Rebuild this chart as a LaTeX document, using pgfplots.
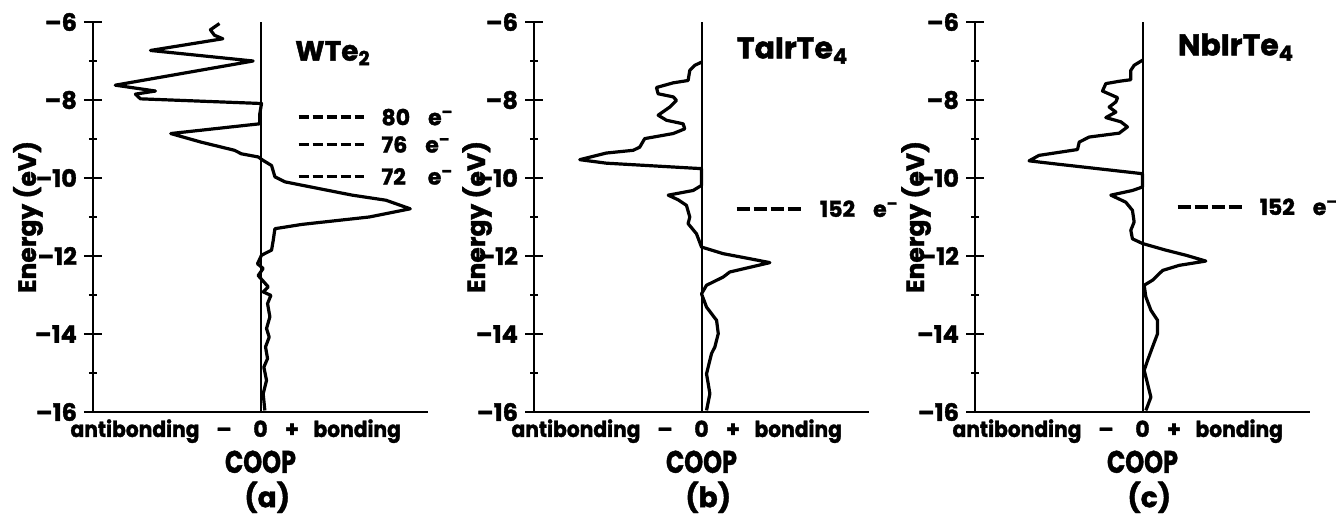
\documentclass[border=0pt]{standalone}
\usepackage{fontspec}
\setmainfont{Poppins}[BoldFeatures={FakeBold=1.5}]
\usepackage{graphicx}
\usepackage{pgfplots}
\pgfplotsset{compat=1.18}

% COOP curves, x = COOP (arbitrary units), y = energy (eV)
\pgfplotstableread{
x y
-0.245 -6.04
-0.299 -6.20
-0.275 -6.34
-0.225 -6.43
-0.657 -6.73
-0.044 -7.00
-0.867 -7.62
-0.627 -7.77
-0.747 -7.85
-0.717 -7.97
0.006 -8.09
-0.004 -8.35
-0.004 -8.61
-0.536 -8.86
-0.355 -9.08
-0.155 -9.29
-0.114 -9.38
-0.014 -9.46
0.016 -9.55
0.066 -9.68
0.086 -9.97
0.147 -10.10
0.347 -10.27
0.548 -10.44
0.749 -10.57
0.894 -10.79
0.649 -11.00
0.247 -11.19
0.086 -11.30
0.076 -11.60
0.066 -11.85
0.006 -11.98
-0.018 -12.20
0.016 -12.32
-0.014 -12.50
0.046 -12.79
0.016 -12.92
0.062 -13.01
0.042 -13.22
0.056 -13.56
0.036 -13.86
0.052 -14.08
0.030 -14.33
0.042 -14.63
0.020 -14.85
0.036 -15.19
0.016 -15.53
0.026 -15.96
}\wte

\pgfplotstableread{
x y
0 -7.03
-0.040 -7.11
-0.070 -7.24
-0.080 -7.50
-0.169 -7.56
-0.269 -7.68
-0.259 -7.84
-0.169 -7.92
-0.149 -8.01
-0.189 -8.18
-0.259 -8.39
-0.209 -8.52
-0.110 -8.61
-0.100 -8.74
-0.169 -8.86
-0.339 -8.99
-0.369 -9.21
-0.408 -9.29
-0.568 -9.36
-0.727 -9.53
-0.568 -9.62
0 -9.76
0 -10.19
-0.050 -10.32
-0.199 -10.44
-0.139 -10.56
-0.090 -10.70
-0.070 -11.00
-0.080 -11.17
-0.030 -11.43
0 -11.77
0.129 -11.94
0.289 -12.07
0.408 -12.17
0.169 -12.41
0.129 -12.54
0.030 -12.75
0 -12.97
0.030 -13.31
0.090 -13.65
0.100 -13.99
0.080 -14.33
0.060 -14.50
0.030 -15.02
0.050 -15.53
0.030 -15.96
}\tairte

\pgfplotstableread{
x y
0 -6.98
-0.050 -7.11
-0.070 -7.24
-0.070 -7.48
-0.139 -7.52
-0.219 -7.58
-0.239 -7.77
-0.149 -7.94
-0.159 -8.05
-0.199 -8.18
-0.159 -8.31
-0.219 -8.45
-0.129 -8.56
-0.090 -8.69
-0.139 -8.85
-0.319 -8.95
-0.378 -9.08
-0.388 -9.27
-0.618 -9.42
-0.677 -9.56
-0.538 -9.63
0 -9.89
0 -10.23
-0.060 -10.32
-0.189 -10.44
-0.100 -10.62
-0.060 -10.83
-0.050 -11.13
-0.070 -11.34
-0.060 -11.56
0 -11.68
0.139 -11.85
0.259 -11.98
0.378 -12.13
0.219 -12.24
0.120 -12.37
0.060 -12.62
0.010 -12.75
0.020 -13.05
0.050 -13.39
0.090 -13.65
0.090 -13.99
0.060 -14.33
0.030 -14.68
0.010 -14.93
0.030 -15.27
0.050 -15.62
0.020 -15.96
}\nbirte

\newcommand{\tk}{\bfseries\fontsize{12}{12}\selectfont}
\newcommand{\lb}{\bfseries\fontsize{11}{11}\selectfont}
\newcommand{\nar}[1]{\scalebox{0.92}[1]{#1}}
\newcommand{\elec}{e\textsuperscript{–}}

\pgfplotsset{
  coop/.style={
    scale only axis, width=167.5pt, height=195pt,
    xmin=-1, xmax=1, ymin=-16, ymax=-6,
    axis lines=left, axis line style={-, line width=1.3pt},
    xtick=\empty,
    ytick={-16,-14,...,-6}, yticklabels={–16,–14,–12,–10,–8,–6},
    minor ytick={-15,-13,...,-7},
    tick align=center, major tick length=9pt, minor tick length=4pt,
    every tick/.style={line width=1.3pt, black},
    yticklabel style={font=\tk},
    ylabel={Energy (eV)},
    ylabel style={font=\bfseries\fontsize{12.5}{12.5}\selectfont, anchor=center},
    clip=false,
  },
  curve/.style={black, line width=1.6pt, line join=round, no markers},
  zero/.style={black, line width=1pt, no markers},
  level/.style={black, line width=1.9pt, dash pattern=on 5pt off 2pt, no markers},
  level4/.style={black, line width=1.9pt, dash pattern=on 6.5pt off 2pt, no markers},
}

\newcommand{\bottomtext}[1]{%
  \node[anchor=base east, font=\lb, inner sep=0pt] at (axis description cs:0.319,-0.064) {\nar{antibonding}};
  \node[anchor=base, font=\lb, inner sep=0pt] at (axis description cs:0.391,-0.064) {–};
  \node[anchor=base, font=\lb, inner sep=0pt] at (axis description cs:0.5,-0.064) {0};
  \node[anchor=base, font=\lb, inner sep=0pt] at (axis description cs:0.594,-0.064) {+};
  \node[anchor=base west, font=\lb, inner sep=0pt] at (axis description cs:0.657,-0.064) {\nar{bonding}};
  \node[anchor=base, font=\bfseries\fontsize{12}{12}\selectfont] at (axis description cs:0.5,-0.156) {\scalebox{1}[1.3]{COOP}};
  \node[anchor=base, font=\bfseries\fontsize{14}{14}\selectfont] at (axis description cs:0.52,-0.244) {#1};
}

\begin{document}
\begin{tikzpicture}
\path[use as bounding box] (0,0) rectangle (668pt,257pt);

\begin{axis}[coop, at={(46.5pt,51pt)}, anchor=south west,
  ylabel style={at={(axis description cs:-0.194,0.5)}}]
  \addplot[zero] coordinates {(0,-16) (0,-6)};
  \addplot[curve] table[x=x, y=y] {\wte};
  \addplot[level] coordinates {(0.227,-8.44) (0.618,-8.44)};
  \addplot[level] coordinates {(0.227,-9.14) (0.618,-9.14)};
  \addplot[level] coordinates {(0.227,-9.96) (0.618,-9.96)};
  \node[anchor=west, font=\lb, inner sep=0pt] at (axis cs:0.72,-8.44) {80\hspace{9pt}\elec};
  \node[anchor=west, font=\lb, inner sep=0pt] at (axis cs:0.72,-9.14) {76\hspace{9pt}\elec};
  \node[anchor=west, font=\lb, inner sep=0pt] at (axis cs:0.72,-9.96) {72\hspace{11pt}\elec};
  \node[anchor=west, font=\bfseries\fontsize{14}{14}\selectfont, inner sep=0pt] at (axis cs:0.205,-6.8) {WTe\textsubscript{2}};
  \bottomtext{(a)}
\end{axis}

\begin{axis}[coop, at={(267pt,51pt)}, anchor=south west,
  ylabel style={at={(axis description cs:-0.17,0.5)}}]
  \addplot[zero] coordinates {(0,-16) (0,-6)};
  \addplot[curve] table[x=x, y=y] {\tairte};
  \addplot[level4] coordinates {(0.209,-10.79) (0.598,-10.79)};
  \node[anchor=west, font=\lb, inner sep=0pt] at (axis cs:0.705,-10.79) {152\hspace{9pt}\elec};
  \node[anchor=west, font=\bfseries\fontsize{15}{15}\selectfont, inner sep=0pt] at (axis cs:0.209,-6.73) {TaIrTe\textsubscript{4}};
  \bottomtext{(b)}
\end{axis}

\begin{axis}[coop, at={(487.5pt,51pt)}, anchor=south west,
  ylabel style={at={(axis description cs:-0.176,0.5)}}]
  \addplot[zero] coordinates {(0,-16) (0,-6)};
  \addplot[curve] table[x=x, y=y] {\nbirte};
  \addplot[level4] coordinates {(0.209,-10.74) (0.608,-10.74)};
  \node[anchor=west, font=\lb, inner sep=0pt] at (axis cs:0.697,-10.74) {152\hspace{9pt}\elec};
  \node[anchor=west, font=\bfseries\fontsize{15}{15}\selectfont, inner sep=0pt] at (axis cs:0.209,-6.64) {NbIrTe\textsubscript{4}};
  \bottomtext{(c)}
\end{axis}
\end{tikzpicture}
\end{document}
